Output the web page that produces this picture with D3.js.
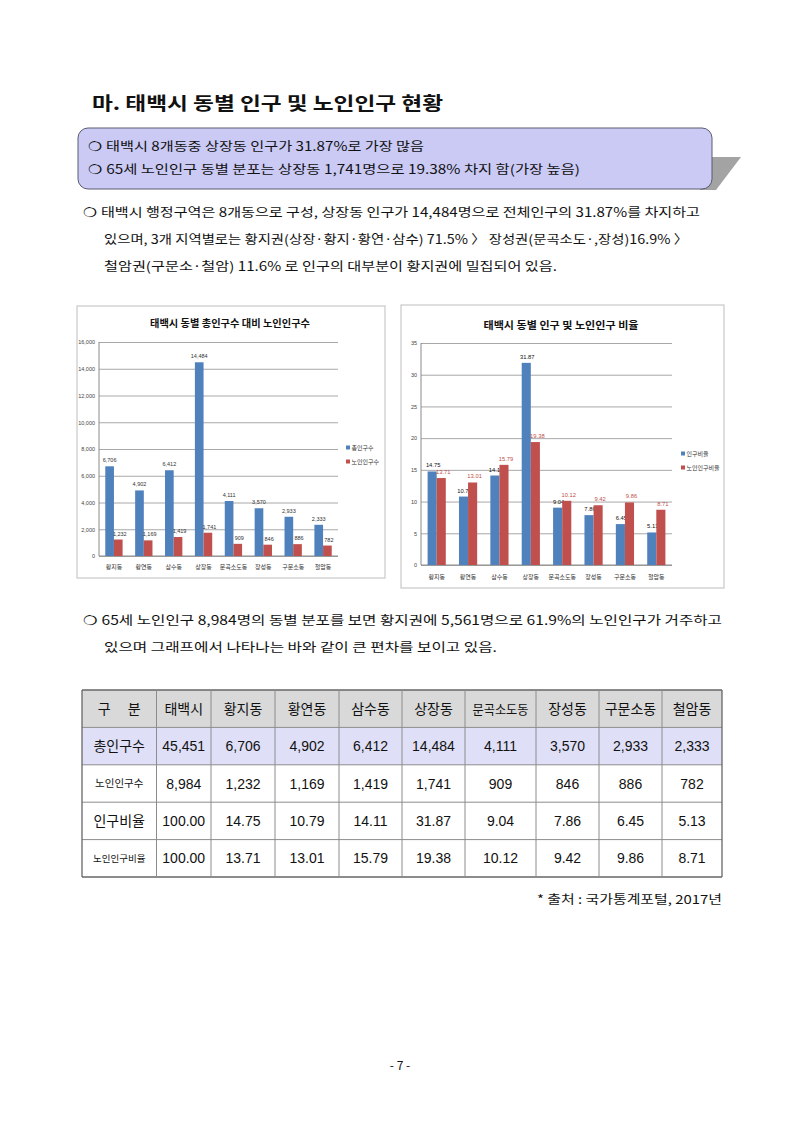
<!DOCTYPE html>
<html><head><meta charset="utf-8">
<script src="https://cdn.jsdelivr.net/npm/d3@7"></script>
<style>body{margin:0;background:#fff}svg{display:block}</style>
</head><body>
<svg id="page" width="800" height="1131"></svg>
<script>
// ---------- DATA ----------
const categories = ['황지동','황연동','삼수동','상장동','문곡소도동','장성동','구문소동','철암동'];
const totalPop   = [6706, 4902, 6412, 14484, 4111, 3570, 2933, 2333];
const elderPop   = [1232, 1169, 1419, 1741, 909, 846, 886, 782];
const popRatio   = [14.75, 10.79, 14.11, 31.87, 9.04, 7.86, 6.45, 5.13];
const elderRatio = [13.71, 13.01, 15.79, 19.38, 10.12, 9.42, 9.86, 8.71];
const leftTicks  = [0, 2000, 4000, 6000, 8000, 10000, 12000, 14000, 16000];
const rightTicks = [0, 5, 10, 15, 20, 25, 30, 35];
const leftSeries  = ['총인구수', '노인인구수'];
const rightSeries = ['인구비율', '노인인구비율'];
const tableHead   = ['구  분', '태백시'];
const rowLabels   = ['총인구수', '노인인구수', '인구비율', '노인인구비율'];
const cityTotals  = [45451, 8984, 100.00, 100.00];

// ---------- PAGE ----------
const svg = d3.select('#page');
const KR = "'Noto Sans CJK KR', 'Noto Sans', sans-serif";
svg.append('rect').attr('width',800).attr('height',1131).attr('fill','#fff');

function line(txt, x, y, size, len, opts={}) {
  const t = svg.append('text').attr('x',x).attr('y',y).text(txt)
    .attr('font-family', KR).attr('font-size', size).attr('fill', opts.fill||'#111')
    .attr('font-weight', opts.weight||400);
  if (len) t.attr('textLength', len).attr('lengthAdjust','spacingAndGlyphs');
  if (opts.anchor) t.attr('text-anchor', opts.anchor);
  return t;
}

line('마. 태백시 동별 인구 및 노인인구 현황', 92, 110, 18, 351, {weight:700});

// highlight box with shadow
svg.append('path').attr('d','M700,157 L741,157 L716,190 L700,190 Z').attr('fill','#a3a3a3');
svg.append('rect').attr('x',78).attr('y',128).attr('width',634).attr('height',61).attr('rx',10)
  .attr('fill','#cacaf5').attr('stroke','#5a5a70').attr('stroke-width',1);
line('❍ 태백시 8개동중 상장동 인구가 31.87%로 가장 많음', 88, 151, 12.5, 336);
line('❍ 65세 노인인구 동별 분포는 상장동 1,741명으로 19.38% 차지 함(가장 높음)', 88, 174, 12.5, 492);

line('❍ 태백시 행정구역은 8개동으로 구성, 상장동 인구가 14,484명으로 전체인구의 31.87%를 차지하고', 83, 217, 12.5, 617);
line('있으며, 3개 지역별로는 황지권(상장·황지·황연·삼수) 71.5% 〉 장성권(문곡소도·,장성)16.9% 〉', 104, 244, 12.5, 584);
line('철암권(구문소·철암) 11.6% 로 인구의 대부분이 황지권에 밀집되어 있음.', 104, 271, 12.5, 453);

line('❍ 65세 노인인구 8,984명의 동별 분포를 보면 황지권에 5,561명으로 61.9%의 노인인구가 거주하고', 83, 625, 12.5, 639);
line('있으며 그래프에서 나타나는 바와 같이 큰 편차를 보이고 있음.', 104, 652, 12.5, 393);

line('* 출처 : 국가통계포털, 2017년', 722, 904, 12, 185, {anchor:'end'});
line('- 7 -', 400, 1070, 12, null, {anchor:'middle'});

// ---------- CHARTS ----------
function drawChart(cfg) {
  const g = svg.append('g');
  g.append('rect').attr('x',cfg.fx).attr('y',cfg.fy).attr('width',cfg.fw).attr('height',cfg.fh)
    .attr('fill','#fff').attr('stroke','#c8c8c8').attr('stroke-width',1.2);
  g.append('text').attr('x',cfg.tx).attr('y',cfg.ty).attr('text-anchor','middle')
    .attr('font-family',KR).attr('font-weight',700).attr('font-size',cfg.tsize).attr('fill','#111')
    .attr('textLength',cfg.tlen).attr('lengthAdjust','spacingAndGlyphs').text(cfg.title);

  const x = d3.scaleBand().domain(categories).range([cfg.left, cfg.right]);
  const y = d3.scaleLinear().domain([0, cfg.ymax]).range([cfg.bottom, cfg.top]);
  const bw = x.bandwidth()*0.29;

  const yAxis = g.append('g').attr('transform',`translate(${cfg.left},0)`)
    .call(d3.axisLeft(y).tickValues(cfg.ticks).tickFormat(cfg.fmt)
      .tickSize(-(cfg.right-cfg.left)).tickPadding(4));
  yAxis.select('.domain').remove();
  yAxis.selectAll('.tick line').attr('stroke','#a8a8a8').attr('stroke-width',1);
  yAxis.selectAll('.tick text').attr('font-family',"'Liberation Sans', Arial, sans-serif")
    .attr('font-size',5.5).attr('fill','#444');
  g.append('line').attr('x1',cfg.left).attr('x2',cfg.left).attr('y1',cfg.top).attr('y2',cfg.bottom)
    .attr('stroke','#8a8a8a');
  g.append('line').attr('x1',cfg.left).attr('x2',cfg.right).attr('y1',cfg.bottom).attr('y2',cfg.bottom)
    .attr('stroke','#8a8a8a');

  const xAxis = g.append('g').attr('transform',`translate(0,${cfg.bottom})`)
    .call(d3.axisBottom(x).tickSize(0).tickPadding(cfg.xpad));
  xAxis.select('.domain').remove();
  xAxis.selectAll('.tick text').attr('font-family',KR).attr('font-size',6).attr('fill','#333');

  const cx = (d,i) => x(categories[i]) + x.bandwidth()/2;
  g.selectAll('.b1').data(cfg.s1).enter().append('rect')
    .attr('x',(d,i)=>cx(d,i)-bw).attr('y',d=>y(d)).attr('width',bw).attr('height',d=>cfg.bottom-y(d))
    .attr('fill','#4f81bd');
  g.selectAll('.l1').data(cfg.s1).enter().append('text')
    .attr('x',(d,i)=>cx(d,i)-bw/2+cfg.l1dx).attr('y',d=>y(d)-4).attr('text-anchor','middle')
    .attr('font-family',"'Liberation Sans', Arial, sans-serif").attr('font-size',cfg.lsize)
    .attr('fill',cfg.l1col).text(d=>cfg.lfmt(d));
  g.selectAll('.b2').data(cfg.s2).enter().append('rect')
    .attr('x',(d,i)=>cx(d,i)).attr('y',d=>y(d)).attr('width',bw).attr('height',d=>cfg.bottom-y(d))
    .attr('fill','#c0504d');
  g.selectAll('.l2').data(cfg.s2).enter().append('text')
    .attr('x',(d,i)=>cx(d,i)+bw/2+cfg.l2dx).attr('y',d=>y(d)-4).attr('text-anchor','middle')
    .attr('font-family',"'Liberation Sans', Arial, sans-serif").attr('font-size',cfg.lsize)
    .attr('fill',cfg.l2col).text(d=>cfg.lfmt(d));

  const cols = ['#4f81bd','#c0504d'];
  cfg.names.forEach((n,i)=>{
    g.append('rect').attr('x',cfg.lgx).attr('y',cfg.lgy+i*14-2.5).attr('width',4).attr('height',4).attr('fill',cols[i]);
    g.append('text').attr('x',cfg.lgx+5.5).attr('y',cfg.lgy+i*14+2.2).attr('font-family',KR)
      .attr('font-size',6).attr('fill','#333').text(n);
  });
}

drawChart({fx:77, fy:306, fw:308, fh:272, title:'태백시 동별 총인구수 대비 노인인구수',
  tx:230, ty:327, tsize:10, tlen:160,
  left:99, right:338, top:342, bottom:556, ymax:16000, ticks:leftTicks, fmt:d3.format(','),
  xpad:9, s1:totalPop, s2:elderPop, lfmt:d3.format(','), lsize:5.5, l1col:'#333', l2col:'#333',
  l1dx:0, l2dx:1.5, names:leftSeries, lgx:346, lgy:448});

drawChart({fx:401, fy:305, fw:323, fh:283, title:'태백시 동별 인구 및 노인인구 비율',
  tx:561, ty:329, tsize:10.5, tlen:155,
  left:421, right:672, top:343, bottom:565, ymax:35, ticks:rightTicks, fmt:d3.format('d'),
  xpad:10, s1:popRatio, s2:elderRatio, lfmt:d3.format('.2f'), lsize:5.8, l1col:'#111', l2col:'#c0504d',
  l1dx:1, l2dx:2, names:rightSeries, lgx:681, lgy:454});

// ---------- TABLE ----------
const colX = [82, 156.5, 211, 275, 339, 402, 465, 536, 599, 662, 722];
const rowY = [690, 727.4, 764.8, 802.2, 839.6, 877];
const tg = svg.append('g');
tg.append('rect').attr('x',colX[0]).attr('y',rowY[0]).attr('width',colX[10]-colX[0]).attr('height',rowY[1]-rowY[0]).attr('fill','#d9d9d9');
tg.append('rect').attr('x',colX[0]).attr('y',rowY[1]).attr('width',colX[10]-colX[0]).attr('height',rowY[2]-rowY[1]).attr('fill','#dfe0f7');
rowY.forEach((yy,i)=>tg.append('line').attr('x1',colX[0]).attr('x2',colX[10]).attr('y1',yy).attr('y2',yy)
  .attr('stroke', (i===0||i===rowY.length-1)?'#666':'#8c8c8c').attr('stroke-width', (i===0||i===rowY.length-1)?1.3:1));
colX.forEach((xx,i)=>tg.append('line').attr('x1',xx).attr('x2',xx).attr('y1',rowY[0]).attr('y2',rowY[5])
  .attr('stroke', (i===0||i===colX.length-1)?'#666':'#8c8c8c').attr('stroke-width',(i===0||i===colX.length-1)?1.3:1));

const numFont = "'Liberation Sans', Arial, sans-serif";
const headers = tableHead.concat(categories);
headers.forEach((h,j)=>{
  const t = tg.append('text').attr('x',(colX[j]+colX[j+1])/2).attr('y',(rowY[0]+rowY[1])/2+5).attr('text-anchor','middle')
    .attr('font-family',KR).attr('font-size', 14).attr('fill','#111')
    .text(j===0 ? '구　 분' : h);
  if (h.length>4) t.attr('font-size',13).attr('textLength',56).attr('lengthAdjust','spacingAndGlyphs');
});
const series = [totalPop, elderPop, popRatio, elderRatio];
const fmts = [d3.format(','), d3.format(','), d3.format('.2f'), d3.format('.2f')];
const labelSizes = [14, 10.5, 14, 9.5];
rowLabels.forEach((lab,r)=>{
  const cy = (rowY[r+1]+rowY[r+2])/2;
  tg.append('text').attr('x',(colX[0]+colX[1])/2).attr('y',cy+labelSizes[r]*0.36).attr('text-anchor','middle')
    .attr('font-family',KR).attr('font-size',labelSizes[r]).attr('fill','#111').text(lab);
  const vals = [cityTotals[r]].concat(series[r]);
  vals.forEach((v,j)=>{
    tg.append('text').attr('x',(colX[j+1]+colX[j+2])/2).attr('y',cy+5).attr('text-anchor','middle')
      .attr('font-family',numFont).attr('font-size',14).attr('fill','#111').text(fmts[r](v));
  });
});
</script>
</body></html>
